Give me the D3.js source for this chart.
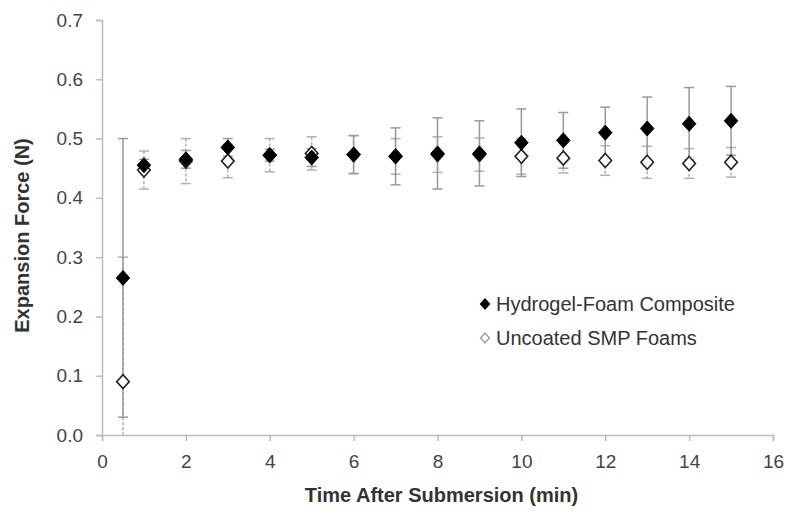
<!DOCTYPE html>
<html>
<head>
<meta charset="utf-8">
<script src="https://cdn.jsdelivr.net/npm/d3@7"></script>
<style>
  body { margin: 0; background: #fff; }
  text { font-family: "Liberation Sans", Arial, sans-serif; }
</style>
</head>
<body>
<div id="chart"></div>
<script>
// time points (min)
var times = [0.5, 1, 2, 3, 4, 5, 6, 7, 8, 9, 10, 11, 12, 13, 14, 15];
// Hydrogel-Foam Composite
var hydrogelMean = [0.265, 0.455, 0.465, 0.485, 0.472, 0.468, 0.473, 0.470, 0.475, 0.475, 0.493, 0.497, 0.510, 0.517, 0.525, 0.530];
var hydrogelErr = [0.235, 0.010, 0.015, 0.015, 0.010, 0.015, 0.032, 0.048, 0.060, 0.055, 0.057, 0.047, 0.043, 0.053, 0.061, 0.058];
// Uncoated SMP Foams
var uncoatedMean = [0.090, 0.447, 0.462, 0.462, 0.472, 0.475, 0.473, 0.470, 0.473, 0.473, 0.470, 0.467, 0.463, 0.460, 0.458, 0.460];
var uncoatedErr = [0.210, 0.032, 0.038, 0.028, 0.028, 0.028, 0.032, 0.030, 0.030, 0.028, 0.030, 0.025, 0.025, 0.027, 0.025, 0.025];

var xTicks = [0, 2, 4, 6, 8, 10, 12, 14, 16];
var yTicks = [0, 0.1, 0.2, 0.3, 0.4, 0.5, 0.6, 0.7];
var seriesNames = ["Hydrogel-Foam Composite", "Uncoated SMP Foams"];

var width = 800, height = 526;
var margin = { top: 20, right: 27, bottom: 91, left: 102 };
var w = width - margin.left - margin.right;
var h = height - margin.top - margin.bottom;

var svg = d3.select("#chart").append("svg")
  .attr("width", width)
  .attr("height", height);

var g = svg.append("g")
  .attr("transform", "translate(" + margin.left + "," + margin.top + ")");

var x = d3.scaleLinear().domain([0, 16]).range([0, w]);
var y = d3.scaleLinear().domain([0, 0.7]).range([h, 0]);

// axes
var xAxis = g.append("g")
  .attr("transform", "translate(0," + h + ")")
  .call(d3.axisBottom(x).tickValues(xTicks).tickSize(6).tickPadding(14).tickFormat(d3.format("d")));
var yAxis = g.append("g")
  .call(d3.axisLeft(y).tickValues(yTicks).tickSize(6).tickPadding(13).tickFormat(d3.format(".1f")));

[xAxis, yAxis].forEach(function (a) {
  a.select(".domain").attr("stroke", "#bbb").attr("stroke-width", 1.5);
  a.selectAll(".tick line").attr("stroke", "#bbb").attr("stroke-width", 1.5);
  a.selectAll(".tick text")
    .attr("fill", "#444")
    .style("font-size", "19px")
    .style("font-family", "'Liberation Sans', Arial, sans-serif");
});

g.append("clipPath").attr("id", "clip")
  .append("rect").attr("x", -20).attr("y", -5).attr("width", w + 40).attr("height", h + 5);

var plot = g.append("g").attr("clip-path", "url(#clip)");

function drawErrors(means, errs, color, dash) {
  var eg = plot.append("g");
  times.forEach(function (t, i) {
    var cx = x(t);
    var top = y(means[i] + errs[i]);
    var bot = y(means[i] - errs[i]);
    eg.append("line")
      .attr("x1", cx).attr("x2", cx)
      .attr("y1", top).attr("y2", bot)
      .attr("stroke", color).attr("stroke-width", 1.5)
      .attr("stroke-dasharray", dash);
    [top, bot].forEach(function (yy) {
      eg.append("line")
        .attr("x1", cx - 5).attr("x2", cx + 5)
        .attr("y1", yy).attr("y2", yy)
        .attr("stroke", color).attr("stroke-width", 1.5);
    });
  });
}

drawErrors(uncoatedMean, uncoatedErr, "#b0b0b0", "3,2");
drawErrors(hydrogelMean, hydrogelErr, "#999", null);

function diamond(cx, cy, r) {
  return "M" + cx + "," + (cy - r) + "L" + (cx + r * 0.9) + "," + cy +
    "L" + cx + "," + (cy + r) + "L" + (cx - r * 0.9) + "," + cy + "Z";
}

g.append("g").selectAll("path")
  .data(times)
  .enter().append("path")
  .attr("d", function (t, i) { return diamond(x(t), y(uncoatedMean[i]), 7); })
  .attr("fill", "#fff")
  .attr("stroke", "#222")
  .attr("stroke-width", 1.6);

g.append("g").selectAll("path")
  .data(times)
  .enter().append("path")
  .attr("d", function (t, i) { return diamond(x(t), y(hydrogelMean[i]), 7.5); })
  .attr("fill", "#000")
  .attr("stroke", "#000")
  .attr("stroke-width", 1);

// legend
var legend = svg.append("g");
seriesNames.forEach(function (name, i) {
  var ly = 304 + i * 34;
  legend.append("path")
    .attr("d", diamond(485, ly, 5))
    .attr("fill", i === 0 ? "#000" : "#fff")
    .attr("stroke", i === 0 ? "#000" : "#999")
    .attr("stroke-width", 1.3);
  legend.append("text")
    .attr("x", 496).attr("y", ly + 7)
    .attr("fill", "#333")
    .style("font-size", "20px")
    .text(name);
});

// axis titles
svg.append("text")
  .attr("x", margin.left + w / 2 + 4).attr("y", 502)
  .attr("text-anchor", "middle")
  .attr("fill", "#333")
  .style("font-size", "20px")
  .style("font-weight", "bold")
  .text("Time After Submersion (min)");

svg.append("text")
  .attr("transform", "translate(29," + (margin.top + h / 2 + 8) + ") rotate(-90)")
  .attr("text-anchor", "middle")
  .attr("fill", "#333")
  .style("font-size", "20px")
  .style("font-weight", "bold")
  .text("Expansion Force (N)");
</script>
</body>
</html>
